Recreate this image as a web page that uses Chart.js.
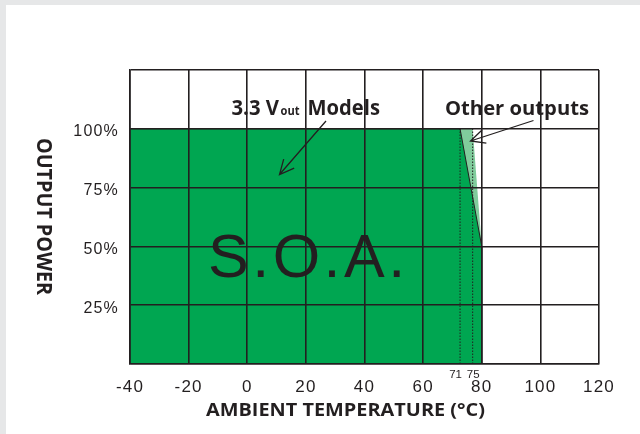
<!DOCTYPE html>
<html>
<head>
<meta charset="utf-8">
<script src="https://cdn.jsdelivr.net/npm/chart.js@4"></script>
<style>
html,body{margin:0;padding:0;background:#fff;}
canvas{display:block;}
</style>
</head>
<body>
<canvas id="c" width="640" height="434"></canvas>
<script>
// ---- data ----
const tempTicks = [-40, -20, 0, 20, 40, 60, 80, 100, 120];
const powerTickLabels = ['', '25%', '50%', '75%', '100%', ''];   // for 0,25,50,75,100,125
const vout33Temp  = [-40, 72.6, 80, 80];
const vout33Power = [100, 100, 50, 0];
const otherTemp   = [-40, 76.9, 80, 80];
const otherPower  = [100, 100, 50, 0];
const derateTemps  = [72.6, 76.9];
const derateLabels = ['71', '75'];

const INK = '#231f20';
const SANS = "'Liberation Sans', Arial, sans-serif";
const BOLD = "'Open Sans', 'Noto Sans', sans-serif";

const toPts = (xs, ys) => xs.map((x, i) => ({x: x, y: ys[i]}));

const datasets = [
  {
    label: '3.3 Vout Models',
    data: toPts(vout33Temp, vout33Power),
    showLine: true, fill: 'origin',
    backgroundColor: '#00a651', borderColor: INK, borderWidth: 1,
    pointRadius: 0, order: 1
  },
  {
    label: 'Other outputs',
    data: toPts(otherTemp, otherPower),
    showLine: true, fill: 'origin',
    backgroundColor: '#80cc9c', borderColor: 'rgba(0,0,0,0)', borderWidth: 0,
    pointRadius: 0, order: 2
  }
];
derateTemps.forEach((t, i) => {
  datasets.push({
    label: 'derate ' + derateLabels[i],
    data: [{x: t, y: 0}, {x: t, y: 100}],
    showLine: true, fill: false,
    borderColor: INK, borderWidth: 1, borderDash: [1.5, 1.5],
    pointRadius: 0, order: 0
  });
});

function fitText(ctx, text, x, y, w, font) {
  ctx.save();
  ctx.letterSpacing = '0px';
  ctx.font = font;
  ctx.textAlign = 'left';
  ctx.textBaseline = 'alphabetic';
  const m = ctx.measureText(text).width;
  ctx.translate(x, y);
  ctx.scale(w / m, 1);
  ctx.fillText(text, 0, 0);
  ctx.restore();
}

function arrow(ctx, x1, y1, x2, y2) {
  const a = Math.atan2(y1 - y2, x1 - x2);
  const L = 16, h = 0.45;
  ctx.beginPath();
  ctx.moveTo(x1, y1); ctx.lineTo(x2, y2);
  ctx.moveTo(x2 + L * Math.cos(a + h), y2 + L * Math.sin(a + h));
  ctx.lineTo(x2, y2);
  ctx.lineTo(x2 + L * Math.cos(a - h), y2 + L * Math.sin(a - h));
  ctx.stroke();
}

const bgPlugin = {
  id: 'bg',
  beforeDraw(chart) {
    const ctx = chart.ctx;
    ctx.fillStyle = '#ffffff';
    ctx.fillRect(0, 0, chart.width, chart.height);
    ctx.fillStyle = '#e6e7e8';
    ctx.fillRect(0, 0, chart.width, 5);
    ctx.fillRect(0, 0, 6, chart.height);
    try { ctx.letterSpacing = '1.2px'; } catch (e) {}
  }
};

const annoPlugin = {
  id: 'anno',
  afterDraw(chart) {
    const ctx = chart.ctx;
    const xs = chart.scales.x;
    ctx.save();
    ctx.fillStyle = INK;
    ctx.strokeStyle = INK;
    // S.O.A.
    ctx.letterSpacing = '3.5px';
    ctx.font = '61px ' + SANS;
    ctx.textAlign = 'left';
    ctx.textBaseline = 'alphabetic';
    ctx.fillText('S.O.A.', 208, 277);
    ctx.letterSpacing = '0px';
    // derating temperature labels
    ctx.font = '11.5px ' + SANS;
    ctx.textAlign = 'center';
    ctx.fillText(derateLabels[0], xs.getPixelForValue(derateTemps[0]) - 4.5, 377.5);
    ctx.fillText(derateLabels[1], xs.getPixelForValue(derateTemps[1]) + 0.5, 377.5);
    // callouts
    fitText(ctx, '3.3 V', 231.5, 115, 47.5, '700 21px ' + BOLD);
    fitText(ctx, 'out', 280.5, 115, 19, '700 12px ' + BOLD);
    fitText(ctx, 'Models', 307.5, 115, 72.5, '700 21px ' + BOLD);
    fitText(ctx, 'Other outputs', 445, 115, 144, '700 20px ' + BOLD);
    ctx.lineWidth = 1.3;
    arrow(ctx, 326, 121, 279.5, 174.5);
    arrow(ctx, 533.5, 120.5, 470.5, 141);
    // axis titles
    fitText(ctx, 'AMBIENT TEMPERATURE (°C)', 206, 416, 279, '700 18px ' + BOLD);
    ctx.save();
    ctx.translate(37, 138);
    ctx.rotate(Math.PI / 2);
    fitText(ctx, 'OUTPUT POWER', 0, 0, 157, '700 21px ' + BOLD);
    ctx.restore();
    ctx.restore();
  }
};

new Chart(document.getElementById('c'), {
  type: 'scatter',
  data: {datasets: datasets},
  plugins: [bgPlugin, annoPlugin],
  options: {
    responsive: false,
    animation: false,
    devicePixelRatio: 1,
    layout: {padding: {left: 0, top: 70, right: 41, bottom: 0}},
    plugins: {legend: {display: false}, tooltip: {enabled: false}},
    scales: {
      x: {
        type: 'linear', min: tempTicks[0], max: tempTicks[tempTicks.length - 1],
        z: 1,
        afterBuildTicks: s => { s.ticks = tempTicks.map(v => ({value: v})); },
        afterFit: s => { s.height = 70; },
        ticks: {color: INK, font: {family: SANS, size: 17}, padding: 13,
                maxRotation: 0, autoSkip: false, callback: v => String(v)},
        grid: {color: INK, lineWidth: 1.6, drawTicks: false, z: 1},
        border: {color: INK, width: 1.6, z: 1}
      },
      y: {
        type: 'linear', min: 0, max: 125,
        z: 1,
        afterBuildTicks: s => { s.ticks = powerTickLabels.map((l, i) => ({value: i * 25})); },
        afterFit: s => { s.width = 130; },
        ticks: {color: INK, font: {family: SANS, size: 16}, padding: 11, labelOffset: 3,
                callback: v => powerTickLabels[Math.round(v / 25)]},
        grid: {color: INK, lineWidth: 1.6, drawTicks: false, z: 1},
        border: {color: INK, width: 1.6, z: 1}
      }
    }
  }
});
</script>
</body>
</html>
